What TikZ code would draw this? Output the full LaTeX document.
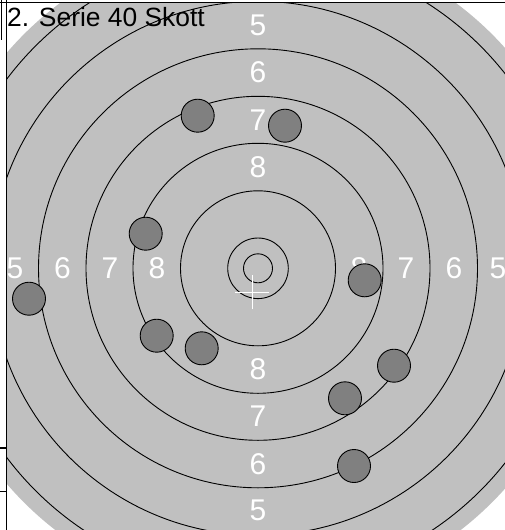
\documentclass[tikz,border=0pt]{standalone}
\usepackage{fontspec}
\setmainfont{Liberation Sans}
\definecolor{discgray}{HTML}{C0C0C0}
\definecolor{shotgray}{HTML}{808080}
\tikzset{
  ring/.style={draw=black, line width=0.9pt},
  shot/.style={circle, draw=black, line width=0.9pt, fill=shotgray, minimum size=33pt, inner sep=0pt},
  ringlabel/.style={text=white, inner sep=0pt, font=\fontsize{30}{31}\selectfont},
  frameline/.style={draw=black, line width=1.1pt},
}
\begin{document}
\begin{tikzpicture}[x=1pt, y=-1pt]
\useasboundingbox (0,0) rectangle (505,530);
\clip (0,0) rectangle (505,530);
\coordinate (c) at (258,268.3);
% target disc and rings, inside the frame
\begin{scope}
  \clip (6.5,2.5) rectangle (506,531);
  \fill[discgray] (c) circle[radius=331];
  \foreach \r in {14.5,30.3,77.5,125,172,219.5,267,314.5}
    \draw[ring] (c) circle[radius=\r];
  % ring numbers
  \node[ringlabel] (t5) at (258,25.3) {5};
  \node[ringlabel] (t6) at (258,72.5) {6};
  \node[ringlabel] (t7) at (258,120) {7};
  \node[ringlabel] (t8) at (258,167) {8};
  \node[ringlabel] (b8) at (258,369.5) {8};
  \node[ringlabel] (b7) at (258,416.5) {7};
  \node[ringlabel] (b6) at (258,464) {6};
  \node[ringlabel] (b5) at (258,510) {5};
  \node[ringlabel] (l5) at (15,268.3) {5};
  \node[ringlabel] (l6) at (62.5,268.3) {6};
  \node[ringlabel] (l7) at (110,268.3) {7};
  \node[ringlabel] (l8) at (157,268.3) {8};
  \node[ringlabel] (r8) at (359,268.3) {8};
  \node[ringlabel] (r7) at (406,268.3) {7};
  \node[ringlabel] (r6) at (454,268.3) {6};
  \node[ringlabel] (r5) at (498,268.3) {5};
  % white aiming cross
  \coordinate (cross) at (252.3,292.3);
  \draw[white, line width=1pt] ([xshift=-17pt]cross) -- ([xshift=17pt]cross);
  \draw[white, line width=1pt] ([yshift=-17pt]cross) -- ([yshift=17pt]cross);
  % shots
  \node[shot] (s1) at (197.7,115.7) {};
  \node[shot] (s2) at (285,125.7) {};
  \node[shot] (s3) at (145.7,233.7) {};
  \node[shot] (s4) at (364.7,280.3) {};
  \node[shot] (s5) at (29,298.7) {};
  \node[shot] (s6) at (156.7,335.7) {};
  \node[shot] (s7) at (201.7,348.3) {};
  \node[shot] (s8) at (394,365.7) {};
  \node[shot] (s9) at (345,398.3) {};
  \node[shot] (s10) at (354,466) {};
\end{scope}
% frame lines
\draw[frameline] (0,2.5) -- (505,2.5);
\draw[frameline] (6.5,0) -- (6.5,530);
\draw[frameline] (1.5,0) -- (1.5,40);
\draw[frameline] (0,448) -- (6.5,448);
\draw[frameline] (0,491.5) -- (6.5,491.5);
% title
\node[anchor=base west, inner sep=0pt, font=\fontsize{26.4}{30}\selectfont] (title) at (7,26.3) {2. Serie 40 Skott};
\end{tikzpicture}
\end{document}
